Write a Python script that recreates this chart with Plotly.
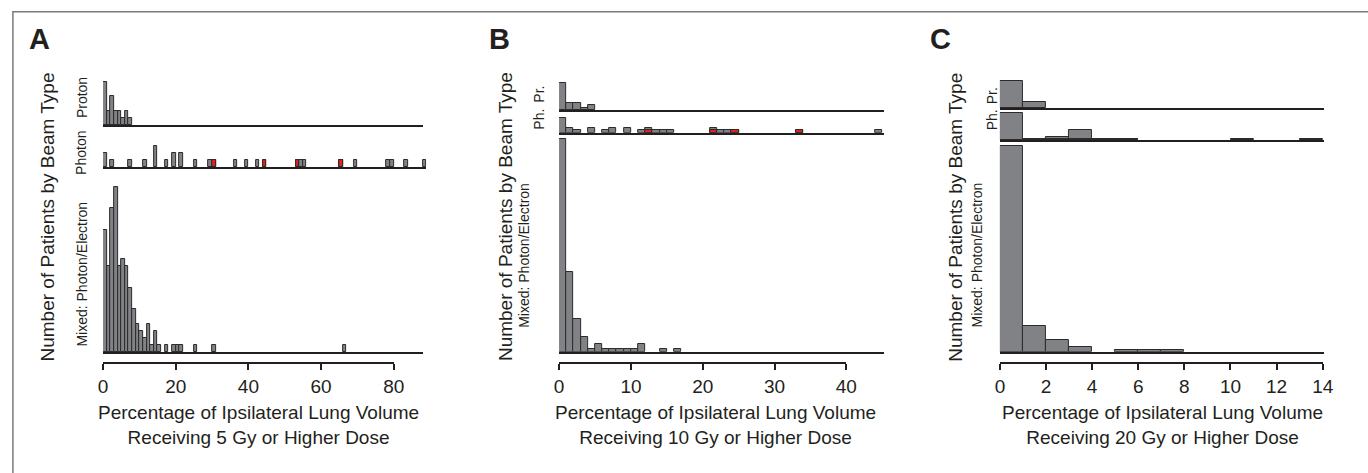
import plotly.graph_objects as go

# ---------------- data (bin start, width 1) ----------------
# Panel A: V5
A_proton_bins = [0, 1, 2, 3, 4, 5, 6, 7]
A_proton_counts = [6, 2, 4, 2, 2, 1, 2, 1]
A_photon_bins = [0, 2, 7, 11, 14, 17, 19, 21, 25, 29, 30, 36, 39, 42, 44, 53, 54, 55, 65, 69, 78, 79, 83, 88]
A_photon_counts = [2, 1, 1, 1, 3, 1, 2, 2, 1, 1, 1, 1, 1, 1, 1, 1, 1, 1, 1, 1, 1, 1, 1, 1]
A_photon_red_bins = [30, 44, 53, 65]
A_photon_red_counts = [1, 1, 1, 1]
A_mixed_bins = [0, 1, 2, 3, 4, 5, 6, 7, 8, 9, 10, 11, 12, 13, 14, 15, 17, 19, 20, 21, 25, 30, 66]
A_mixed_counts = [17, 12, 20, 23, 12, 13, 12, 9, 6, 4, 3, 2, 4, 1, 3, 1, 1, 1, 1, 1, 1, 1, 1]

# Panel B: V10
B_proton_bins = [0, 1, 2, 3, 4]
B_proton_counts = [11, 3, 3, 1, 2]
B_photon_bins = [0, 1, 2, 4, 6, 7, 9, 11, 12, 13, 14, 15, 21, 22, 23, 24, 33, 44]
B_photon_counts = [6, 2, 1, 2, 1, 2, 2, 1, 2, 1, 1, 1, 2, 1, 1, 1, 1, 1]
B_photon_red_bins = [12, 21, 24, 33]
B_photon_red_counts = [1, 1, 1, 1]
B_mixed_bins = [0, 1, 2, 3, 4, 5, 6, 7, 8, 9, 10, 11, 14, 16]
B_mixed_counts = [85, 32, 13, 6, 1, 3, 1, 1, 1, 1, 1, 3, 1, 1]

# Panel C: V20
C_proton_bins = [0, 1]
C_proton_counts = [16, 4]
C_photon_bins = [0, 1, 2, 3, 4, 5, 10, 13]
C_photon_counts = [16, 1, 2, 6, 1, 1, 1, 1]
C_photon_red_bins = [2, 3, 4, 5]
C_photon_red_counts = [1, 1, 1, 1]
C_mixed_bins = [0, 1, 2, 3, 5, 6, 7]
C_mixed_counts = [122, 15, 7, 3, 1, 1, 1]

A_ticks = [0, 20, 40, 60, 80]
B_ticks = [0, 10, 20, 30, 40]
C_ticks = [0, 2, 4, 6, 8, 10, 12, 14]

A_xtitle = "Percentage of Ipsilateral Lung Volume<br>Receiving 5 Gy or Higher Dose"
B_xtitle = "Percentage of Ipsilateral Lung Volume<br>Receiving 10 Gy or Higher Dose"
C_xtitle = "Percentage of Ipsilateral Lung Volume<br>Receiving 20 Gy or Higher Dose"
ytitle = "Number of Patients by Beam Type"

# ---------------- layout helpers ----------------
W, H = 1368, 473
GREY = "#818285"
EDGE = "#2b2b2b"
RED = "#e3201b"
INK = "#231f20"
FONT = "Liberation Sans, Arial, sans-serif"


def fx(p):
    return p / W


def fy(p):
    return 1 - p / H


panels = [
    dict(letter="A", letter_x=35, x0=99.3, ux=3.675, uy=7.2,
         ticks=A_ticks, tmax=80, xtitle=A_xtitle, xtitle_x=257, ytitle_x=42,
         rows=[
             dict(bins=A_proton_bins, counts=A_proton_counts, red=None, xmax=88,
                  base=125.0, top=78, label="Proton", lx=77.5, ly=97.5),
             dict(bins=A_photon_bins, counts=A_photon_counts,
                  red=(A_photon_red_bins, A_photon_red_counts), xmax=89,
                  base=167.3, top=140, label="Photon", lx=77.5, ly=153.3),
             dict(bins=A_mixed_bins, counts=A_mixed_counts, red=None, xmax=88,
                  base=352.3, top=185, label="Mixed: Photon/Electron", lx=77.5, ly=274),
         ]),
    dict(letter="B", letter_x=500, x0=560.7, ux=7.265, uy=2.5,
         ticks=B_ticks, tmax=40, xtitle=B_xtitle, xtitle_x=719, ytitle_x=506,
         rows=[
             dict(bins=B_proton_bins, counts=B_proton_counts, red=None, xmax=45.2,
                  base=110.0, top=80, label="Pr.", lx=540, ly=94),
             dict(bins=B_photon_bins, counts=B_photon_counts,
                  red=(B_photon_red_bins, B_photon_red_counts), xmax=45.2,
                  base=132.7, top=114, label="Ph.", lx=540, ly=119),
             dict(bins=B_mixed_bins, counts=B_mixed_counts, red=None, xmax=45.2,
                  base=351.7, top=136, label="Mixed: Photon/Electron", lx=525, ly=255),
         ]),
    dict(letter="C", letter_x=947, x0=1006.7, ux=23.33, uy=1.69,
         ticks=C_ticks, tmax=14, xtitle=C_xtitle, xtitle_x=1171, ytitle_x=961,
         rows=[
             dict(bins=C_proton_bins, counts=C_proton_counts, red=None, xmax=14.05,
                  base=108.3, top=80, label="Pr.", lx=999, ly=96),
             dict(bins=C_photon_bins, counts=C_photon_counts,
                  red=(C_photon_red_bins, C_photon_red_counts), xmax=14.05,
                  base=140.3, top=111, label="Ph.", lx=999, ly=120),
             dict(bins=C_mixed_bins, counts=C_mixed_counts, red=None, xmax=14.05,
                  base=351.7, top=141, label="Mixed: Photon/Electron", lx=984, ly=255),
         ]),
]

fig = go.Figure()
layout = {}
annotations = []
n = 0
for p in panels:
    for r in p["rows"]:
        n += 1
        xa, ya = f"x{n}", f"y{n}"
        fig.add_trace(go.Bar(
            x=[b + 0.5 for b in r["bins"]], y=r["counts"], width=1,
            marker=dict(color=GREY, line=dict(color=EDGE, width=1)),
            xaxis=xa, yaxis=ya, showlegend=False, hoverinfo="skip"))
        if r["red"] is not None:
            rb, rc = r["red"]
            fig.add_trace(go.Bar(
                x=[b + 0.5 for b in rb], y=rc, width=1,
                marker=dict(color=RED, line=dict(color=EDGE, width=1)),
                xaxis=xa, yaxis=ya, showlegend=False, hoverinfo="skip"))
        layout[f"xaxis{n}"] = dict(
            domain=[fx(p["x0"]), fx(p["x0"] + r["xmax"] * p["ux"])],
            range=[0, r["xmax"]], anchor=ya, showline=True, linecolor=INK,
            linewidth=2, ticks="", showticklabels=False, showgrid=False,
            zeroline=False, fixedrange=True)
        layout[f"yaxis{n}"] = dict(
            domain=[fy(r["base"]), fy(r["top"])],
            range=[0, (r["base"] - r["top"]) / p["uy"]], anchor=xa,
            visible=False, fixedrange=True)
        annotations.append(dict(
            text=r["label"], x=fx(r["lx"]), y=fy(r["ly"]), xref="paper", yref="paper",
            textangle=-90, showarrow=False, xanchor="center", yanchor="middle",
            font=dict(family=FONT, size=14, color=INK)))
    # tick axis (separate line under the histograms)
    n += 1
    xa, ya = f"x{n}", f"y{n}"
    fig.add_trace(go.Scatter(x=[None], y=[None], xaxis=xa, yaxis=ya,
                             showlegend=False, hoverinfo="skip"))
    layout[f"xaxis{n}"] = dict(
        domain=[fx(p["x0"]), fx(p["x0"] + p["tmax"] * p["ux"])],
        range=[0, p["tmax"]], anchor="free", position=fy(363.3),
        showline=True, linecolor=INK, linewidth=2, ticks="outside", ticklen=6,
        tickwidth=1.5, tickcolor=INK, tickvals=p["ticks"],
        ticktext=[str(t) for t in p["ticks"]], showgrid=False, zeroline=False,
        tickfont=dict(family=FONT, size=19, color=INK), fixedrange=True)
    layout[f"yaxis{n}"] = dict(domain=[fy(370), fy(360)], range=[0, 1], anchor=xa,
                               visible=False, fixedrange=True)
    # titles & letter
    annotations.append(dict(
        text=p["xtitle"], x=fx(p["xtitle_x"]), y=fy(424.5), xref="paper", yref="paper",
        showarrow=False, xanchor="center", yanchor="middle", align="center",
        font=dict(family=FONT, size=19, color=INK)))
    annotations.append(dict(
        text=ytitle, x=fx(p["ytitle_x"]), y=fy(217), xref="paper", yref="paper",
        textangle=-90, showarrow=False, xanchor="center", yanchor="middle",
        font=dict(family=FONT, size=19, color=INK)))
    annotations.append(dict(
        text="<b>" + p["letter"] + "</b>", x=fx(p["letter_x"]), y=fy(39),
        xref="paper", yref="paper", showarrow=False, xanchor="center",
        yanchor="middle", font=dict(family=FONT, size=29, color=INK)))

fig.update_layout(
    width=W, height=H, margin=dict(l=0, r=0, t=0, b=0),
    paper_bgcolor="white", plot_bgcolor="white", barmode="overlay",
    bargap=0, showlegend=False, annotations=annotations,
    shapes=[dict(type="rect", xref="paper", yref="paper",
                 x0=fx(8), x1=1.02, y0=-0.02, y1=fy(11.7),
                 line=dict(color="#7a7a7a", width=1.5))],
    **layout)

fig.write_html(
    "out.html",
    config={"displayModeBar": False, "responsive": False},
    post_script="document.body.style.margin='0';document.body.style.overflow='hidden';"
                "document.documentElement.style.overflow='hidden';")
